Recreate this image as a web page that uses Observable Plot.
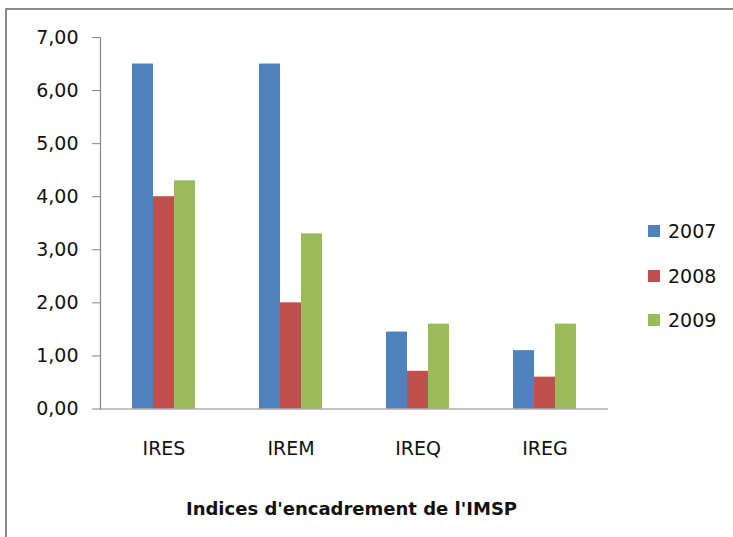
<!DOCTYPE html>
<html>
<head>
<meta charset="utf-8">
<script src="https://cdn.jsdelivr.net/npm/d3@7"></script>
<script src="https://cdn.jsdelivr.net/npm/@observablehq/plot@0.6"></script>
<style>
  html, body { margin: 0; padding: 0; background: #fff; }
  #wrap { position: relative; width: 733px; height: 537px; overflow: hidden; font-family: "DejaVu Sans", sans-serif; }
  #border { position: absolute; left: 5px; top: 8px; right: -20px; bottom: -20px; border-top: 2px solid #8a8a8a; border-left: 2px solid #8a8a8a; pointer-events: none; }
  #title { position: absolute; left: 0; width: 703px; top: 500px; line-height: 18px; font-size: 18px; font-weight: bold; text-align: center; color: #111; }
  .leg { position: absolute; left: 648px; height: 19px; }
  .leg .sw { position: absolute; left: 0; top: 3px; width: 12px; height: 12px; }
  .leg .lb { position: absolute; left: 20px; top: 0; font-size: 19px; line-height: 19px; color: #111; }
</style>
</head>
<body>
<div id="wrap"></div>
<script>
const categories = ["IRES", "IREM", "IREQ", "IREG"];
const years = ["2007", "2008", "2009"];
const v2007 = [6.5, 6.5, 1.45, 1.1];
const v2008 = [4.0, 2.0, 0.71, 0.6];
const v2009 = [4.3, 3.3, 1.6, 1.6];
const colors = ["#4F81BD", "#C0504D", "#9BBB59"];
const yTicks = [0, 1, 2, 3, 4, 5, 6, 7];
const titleText = "Indices d'encadrement de l'IMSP";

const series = [v2007, v2008, v2009];
const data = categories.flatMap((c, i) => years.map((y, j) => ({category: c, year: y, value: series[j][i]})));

const W = 733, H = 537;
const chart = Plot.plot({
  width: W,
  height: H,
  marginLeft: 100,
  marginRight: 125,
  marginTop: 37,
  marginBottom: H - 408.5,
  fx: {domain: categories, padding: 0, label: null},
  x: {domain: years, padding: 0, paddingOuter: 1.5, axis: null},
  y: {domain: [0, 7], label: null},
  color: {domain: years, range: colors},
  marks: [
    Plot.barY(data, {fx: "category", x: "year", y: "value", fill: "year"}),
    Plot.ruleY([0], {stroke: "#868686", strokeWidth: 1.2}),
    Plot.frame({anchor: "left", facetAnchor: "left", stroke: "#868686", strokeWidth: 1.2}),
    Plot.axisY(yTicks, {
      tickSize: 8, tickPadding: 14, stroke: "#868686",
      tickFormat: d => d.toFixed(2).replace(".", ","),
      fontSize: 19, fontFamily: "DejaVu Sans", fill: "#111", label: null
    }),
    Plot.axisFx({anchor: "bottom", tickSize: 0, tickPadding: 32, fontSize: 19, fontFamily: "DejaVu Sans", fill: "#111", label: null})
  ]
});

const wrap = document.getElementById("wrap");
wrap.appendChild(chart);

const border = document.createElement("div");
border.id = "border";
wrap.appendChild(border);

const title = document.createElement("div");
title.id = "title";
title.textContent = titleText;
wrap.appendChild(title);

years.forEach((y, j) => {
  const row = document.createElement("div");
  row.className = "leg";
  row.style.top = (222 + j * 44.5) + "px";
  const sw = document.createElement("div");
  sw.className = "sw";
  sw.style.background = colors[j];
  const lb = document.createElement("div");
  lb.className = "lb";
  lb.textContent = y;
  row.appendChild(sw);
  row.appendChild(lb);
  wrap.appendChild(row);
});
</script>
</body>
</html>
